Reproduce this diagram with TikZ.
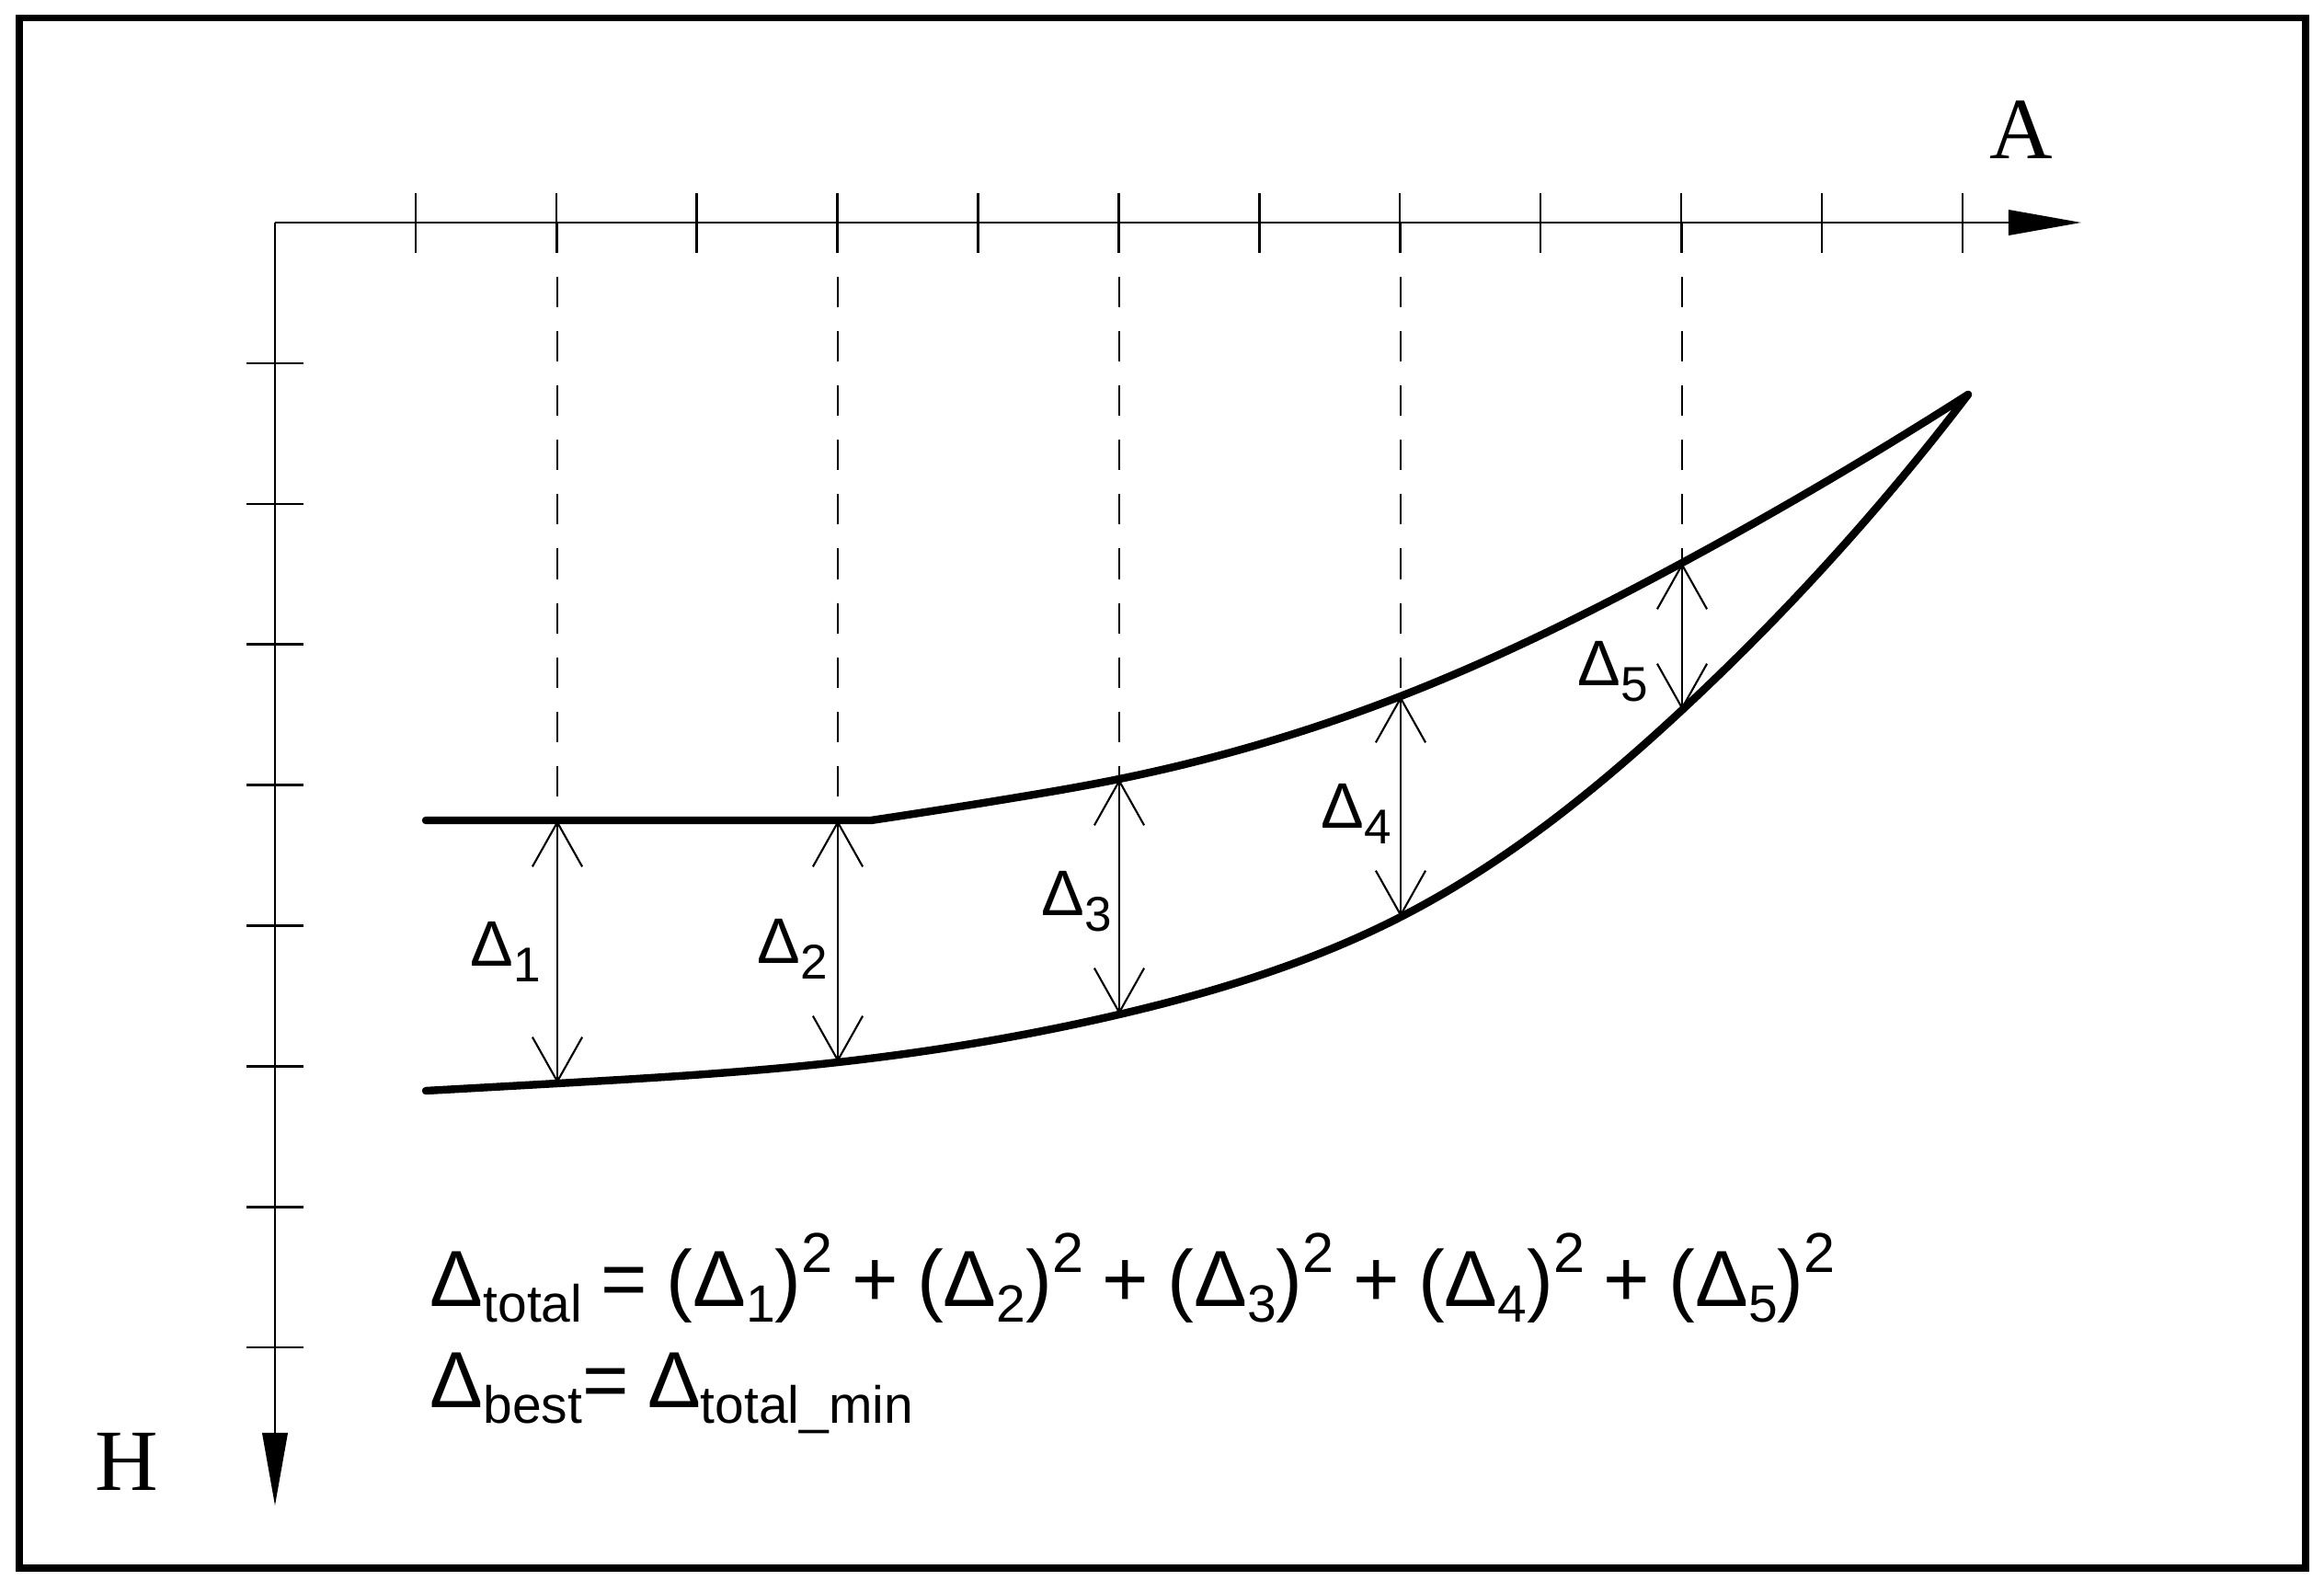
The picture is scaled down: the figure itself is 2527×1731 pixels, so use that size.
\documentclass[tikz,border=0pt]{standalone}
\usepackage{fontspec}
\setmainfont{Liberation Serif}
\newfontfamily\arialf[WordSpace=0.85]{Liberation Sans}
\usetikzlibrary{arrows.meta,hobby}
\newcommand\fsub[1]{\raisebox{-5.1pt}{\fontsize{16.2pt}{16.2pt}\selectfont #1}}
\newcommand\fsup[1]{\raisebox{10.5pt}{\fontsize{17.4pt}{17.4pt}\selectfont #1}}
\newcommand\lsub[1]{\raisebox{-5.1pt}{\fontsize{15.1pt}{15.1pt}\selectfont #1}}
\begin{document}
\begin{tikzpicture}[x=0.01cm,y=-0.01cm,
  frame/.style={line width=2.1pt},
  axis/.style={line width=0.7pt, -{Triangle[length=22.5pt,width=7.8pt]}},
  tickmark/.style={line width=0.7pt},
  curve/.style={line width=2.4pt, line cap=round, line join=round},
  dim/.style={line width=0.6pt, {Straight Barb[length=13.7pt,width=15.4pt]}-{Straight Barb[length=13.7pt,width=15.4pt]}},
  guide/.style={line width=0.6pt, dash pattern=on 9.4pt off 7.4pt},
  lab/.style={font=\arialf\fontsize{19.9pt}{24pt}\selectfont, inner sep=0pt, anchor=base west},
  formula/.style={font=\arialf\fontsize{24.6pt}{31.3pt}\selectfont, inner sep=0pt, anchor=base west},
  axlab/.style={font=\fontsize{27pt}{30pt}\selectfont, inner sep=0pt, anchor=base west}]

\useasboundingbox (0,0) rectangle (2527,1731);
\draw[frame] (21,19.5) rectangle (2507,1705);

% axes
\coordinate (O) at (299,242);
\coordinate (Aend) at (2263,242);
\coordinate (Hend) at (299,1637);
\draw[axis] (O) -- (Aend);
\draw[axis] (O) -- (Hend);
\foreach \k in {1,...,12}{\pgfmathsetmacro\xx{299+152.9*\k}\draw[tickmark] (\xx,210) -- (\xx,275);}
\foreach \k in {1,...,8}{\pgfmathsetmacro\yy{242+152.9*\k}\draw[tickmark] (268,\yy) -- (330,\yy);}

\node[axlab] (A) at (2163,173) {A};
\node[axlab] (H) at (103,1620) {H};

% curve points
\coordinate (uL) at (463,892);
\coordinate (u1) at (606,892);
\coordinate (u2) at (911,892);
\coordinate (uK) at (947,892);
\coordinate (uM) at (1100,868);
\coordinate (u3) at (1217,847);
\coordinate (u4) at (1523,757);
\coordinate (u5) at (1829,612);
\coordinate (P) at (2140,429);
\coordinate (lL) at (463,1186);
\coordinate (l1) at (606,1178);
\coordinate (l2) at (911,1155);
\coordinate (l3) at (1217,1103);
\coordinate (l4) at (1523,997);
\coordinate (l5) at (1829,772);
\coordinate (t1) at (606,242);
\coordinate (t2) at (911,242);
\coordinate (t3) at (1217,242);
\coordinate (t4) at (1523,242);
\coordinate (t5) at (1829,242);

% guides
\foreach \i in {1,...,5}{\draw[guide] (t\i) -- (u\i);}

% curves
\draw[curve] (uL) -- (uK) to[curve through={(uM) (u3) (u4) (u5)}] (P);
\draw[curve] (lL) to[curve through={(l1) (l2) (l3) (l4) (l5)}] (P);

% dimension arrows
\foreach \i in {1,...,5}{\draw[dim] (u\i) -- (l\i);}

% labels
\node[lab] (d1) at (511,1050) {Δ\lsub{1}};
\node[lab] (d2) at (823,1047) {Δ\lsub{2}};
\node[lab] (d3) at (1132,995) {Δ\lsub{3}};
\node[lab] (d4) at (1436,900) {Δ\lsub{4}};
\node[lab] (d5) at (1715,745) {Δ\lsub{5}};

% formulas
\node[formula] (f1) at (467,1420) {Δ\fsub{total} = (Δ\fsub{1})\fsup{2} + (Δ\fsub{2})\fsup{2} + (Δ\fsub{3})\fsup{2} + (Δ\fsub{4})\fsup{2} + (Δ\fsub{5})\fsup{2}};
\node[formula] (f2) at (467,1530) {Δ\fsub{best}= Δ\fsub{total\_min}};
\end{tikzpicture}
\end{document}
